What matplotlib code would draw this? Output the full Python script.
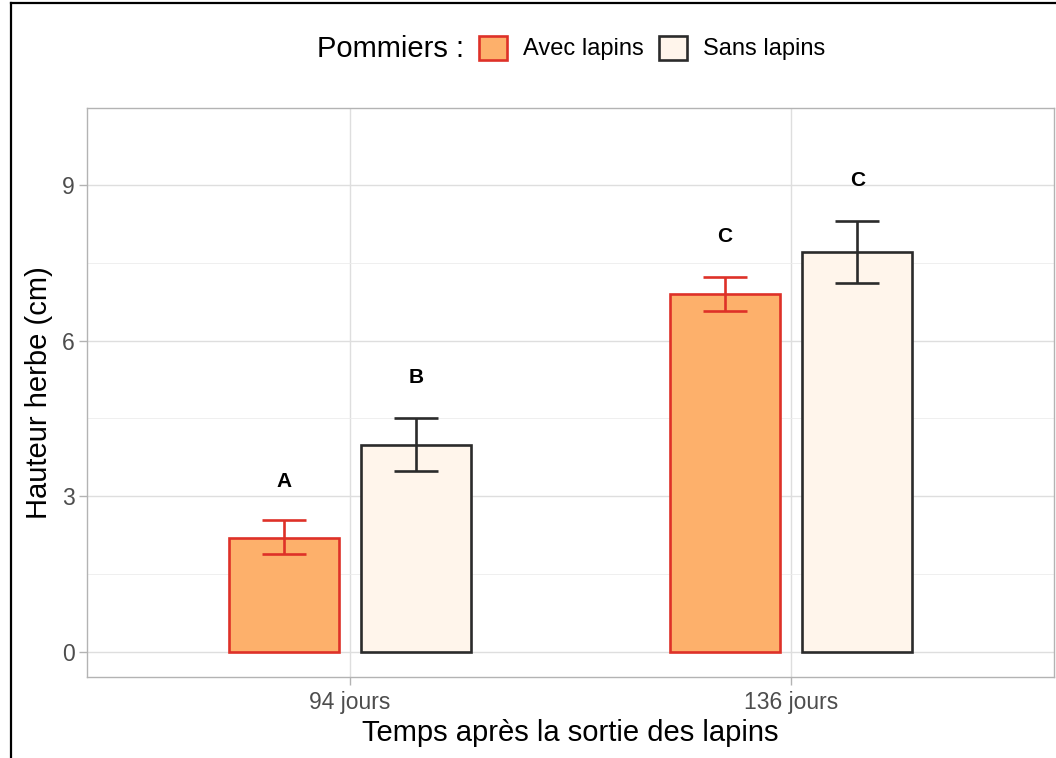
import matplotlib
matplotlib.use("Agg")
import matplotlib.pyplot as plt
from matplotlib.lines import Line2D
import numpy as np

plt.rcParams['font.family'] = ['Liberation Sans', 'DejaVu Sans']

categories = ["94 jours", "136 jours"]
groups = ["Avec lapins", "Sans lapins"]
means = {"Avec lapins": [2.20, 6.90], "Sans lapins": [3.99, 7.71]}
err_low = {"Avec lapins": [1.89, 6.57], "Sans lapins": [3.49, 7.11]}
err_high = {"Avec lapins": [2.54, 7.23], "Sans lapins": [4.51, 8.30]}
letters = {"Avec lapins": ["A", "C"], "Sans lapins": ["B", "C"]}
letter_y = {"Avec lapins": [3.29, 8.00], "Sans lapins": [5.28, 9.09]}

fills = {"Avec lapins": "#fdb06b", "Sans lapins": "#fff5eb"}
edges = {"Avec lapins": "#de3128", "Sans lapins": "#2b2b2b"}

W, H = 1056, 758
fig = plt.figure(figsize=(W / 100, H / 100), dpi=100)
ax = fig.add_axes([87 / W, 1 - 677 / H, (1054 - 87) / W, (677 - 108) / H])

x = np.arange(1, len(categories) + 1)
offsets = {"Avec lapins": -0.15, "Sans lapins": 0.15}
bar_w = 0.25
handles = []
for g in groups:
    xs = x + offsets[g]
    b = ax.bar(xs, means[g], width=bar_w, color=fills[g], edgecolor=edges[g],
               linewidth=1.9, zorder=3, label=g)
    handles.append(b)
    lo = np.array(means[g]) - np.array(err_low[g])
    hi = np.array(err_high[g]) - np.array(means[g])
    ax.errorbar(xs, means[g], yerr=[lo, hi], fmt='none', ecolor=edges[g],
                elinewidth=1.9, capsize=15.5, capthick=1.9, zorder=4)
    for xi, lab, ly in zip(xs, letters[g], letter_y[g]):
        ax.text(xi, ly, lab, ha='center', va='center', fontsize=15,
                fontweight='bold', color='black', zorder=5)

ax.set_xlim(0.404, 2.596)
ax.set_ylim(-0.48, 10.48)
ax.set_xticks(x)
ax.set_xticklabels(categories)
ax.set_yticks([0, 3, 6, 9])
ax.set_yticks([1.5, 4.5, 7.5], minor=True)
ax.set_xticks([], minor=True)

ax.grid(True, which='major', color='#dedede', linewidth=1.0, zorder=0)
ax.grid(True, which='minor', axis='y', color='#ececec', linewidth=0.6, zorder=0)
ax.set_axisbelow(True)
for s in ax.spines.values():
    s.set_color('#b3b3b3')
    s.set_linewidth(1.0)
ax.tick_params(axis='both', which='major', color='#b3b3b3', length=5.5, width=1.0,
               labelcolor='#4d4d4d', labelsize=16.5, pad=3.5)
ax.tick_params(axis='x', which='major', pad=4.5)
ax.tick_params(axis='both', which='minor', length=0)

ax.set_xlabel("Temps après la sortie des lapins", fontsize=21, color='black', labelpad=4)
ax.set_ylabel("Hauteur herbe (cm)", fontsize=21, color='black', labelpad=6)

# Legend
fig.text(317 / W, 1 - 49 / H, "Pommiers :", fontsize=21, ha='left', va='center')
leg = fig.legend(handles=handles, labels=groups, loc='center left',
                 bbox_to_anchor=(479 / W, 1 - 48 / H), ncol=2, frameon=False,
                 fontsize=17, handlelength=1.19, handleheight=1.19,
                 handletextpad=0.68, columnspacing=0.64, borderpad=0,
                 borderaxespad=0)

# Outer border (left and top edges)
fig.add_artist(Line2D([10.5 / W, 10.5 / W], [0, 1 - 3 / H], color='black',
                      linewidth=1.6, transform=fig.transFigure))
fig.add_artist(Line2D([10.5 / W, 1], [1 - 3 / H, 1 - 3 / H], color='black',
                      linewidth=1.6, transform=fig.transFigure))

fig.savefig("out.png", dpi=100)
